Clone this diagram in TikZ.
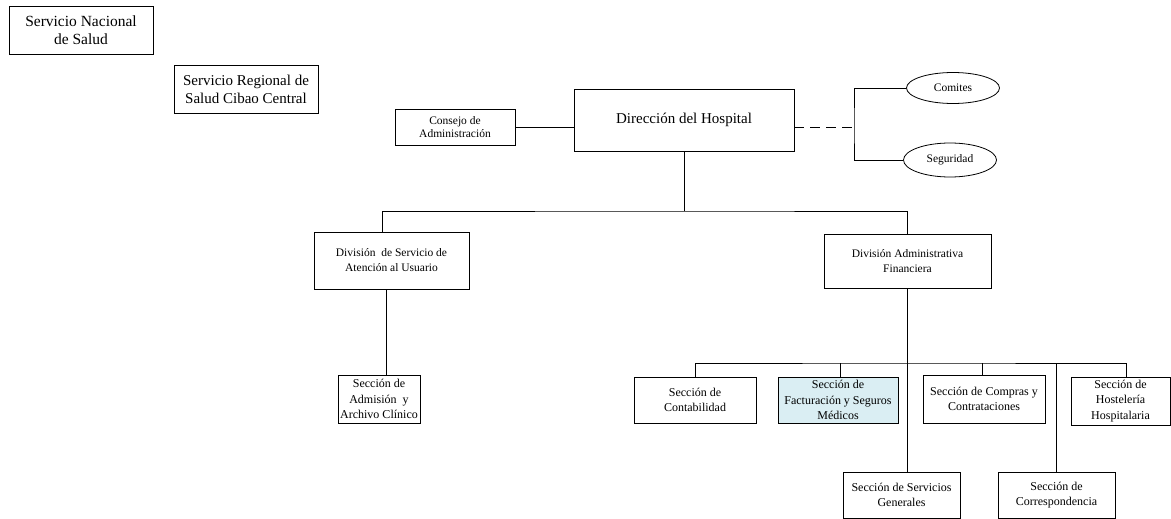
\documentclass[tikz,border=0pt]{standalone}
\usepackage{fontspec}
\setmainfont{Liberation Serif}
\usetikzlibrary{shapes.geometric}
\definecolor{celeste}{HTML}{DAEEF3}

\begin{document}
\begin{tikzpicture}[x=1pt,y=-1pt,line width=0.8pt,
    orgbox/.style={draw, rectangle, inner sep=0pt, align=center},
    comite/.style={draw, ellipse, inner sep=0pt, minimum width=93pt, minimum height=31pt, font=\fontsize{11.5}{13}\selectfont},
    big/.style={font=\fontsize{15.5}{18}\selectfont},
    mid/.style={font=\fontsize{11.5}{15}\selectfont},
    small/.style={font=\fontsize{11.5}{13.5}\selectfont},
    sec/.style={orgbox, font=\fontsize{12}{15.5}\selectfont}]
    \useasboundingbox (0,0) rectangle (1171,519);
    \node[orgbox, big, minimum width=144pt, minimum height=48pt] (nacional) at (81,30) {Servicio Nacional\\de Salud};
    \node[orgbox, font=\fontsize{15}{18}\selectfont, minimum width=144pt, minimum height=48pt] (regional) at (246,89) {Servicio Regional de\\Salud Cibao Central};
    \node[orgbox, small, minimum width=120pt, minimum height=36pt] (consejo) at (455,127) {Consejo de\\Administración};
    \node[orgbox, font=\fontsize{15}{18}\selectfont, minimum width=220pt, minimum height=62pt] (direccion) at (684,120) {Dirección del Hospital};
    \node[comite] (comites) at (953,88) {Comites};
    \node[comite, minimum height=34pt] (seguridad) at (950,160) {Seguridad};
    \node[orgbox, mid, minimum width=155pt, minimum height=57pt] (divatencion) at (391.5,260.5) {División \ de Servicio de\\Atención al Usuario};
    \node[orgbox, mid, minimum width=167pt, minimum height=54pt] (divadmin) at (907.5,261) {División Administrativa\\Financiera};
    \node[sec, minimum width=82pt, minimum height=48pt] (admision) at (379,399) {Sección de\\Admisión \ y\\Archivo Clínico};
    \node[sec, minimum width=122pt, minimum height=46pt] (contab) at (695,400) {Sección de\\Contabilidad};
    \node[sec, fill=celeste, minimum width=120pt, minimum height=46pt] (factur) at (838,400) {Sección de\\Facturación y Seguros\\Médicos};
    \node[sec, minimum width=122pt, minimum height=48pt] (compras) at (984,399) {Sección de Compras y\\Contrataciones};
    \node[sec, minimum width=99pt, minimum height=48pt] (hosteleria) at (1120.5,401) {Sección de\\Hostelería\\Hospitalaria};
    \node[sec, minimum width=117pt, minimum height=46pt] (servgen) at (901.5,495) {Sección de Servicios\\Generales};
    \node[sec, minimum width=117pt, minimum height=46pt] (corresp) at (1056.5,495) {Sección de\\Correspondencia};

    \coordinate (brk) at (854,127);
    \coordinate (bus1) at (684,211);
    \coordinate (bus2) at (907,363);

    \draw (consejo.east) -- (consejo.east -| direccion.west);
    \draw[dash pattern=on 10pt off 6pt] (direccion.east |- brk) -- (brk);
    \draw (comites.west) -| (brk) |- (seguridad.west);
    \draw (direccion.south) -- (bus1);
    \draw ([xshift=-9pt]divatencion.north) |- (bus1) -| ([xshift=-0.5pt]divadmin.north);
    \draw ([xshift=-5.5pt]divatencion.south) coordinate (a1) -- (a1 |- admision.north);
    \draw ([xshift=-0.5pt]divadmin.south) coordinate (a2) -- (a2 |- servgen.north);
    \draw (contab.north) |- (bus2) -| ([xshift=5.5pt]hosteleria.north);
    \draw ([xshift=2pt]factur.north) coordinate (a3) -- (a3 |- bus2);
    \draw ([xshift=-2pt]compras.north) coordinate (a4) -- (a4 |- bus2);
    \draw (corresp.north) -- (corresp.north |- bus2);
\end{tikzpicture}
\end{document}
